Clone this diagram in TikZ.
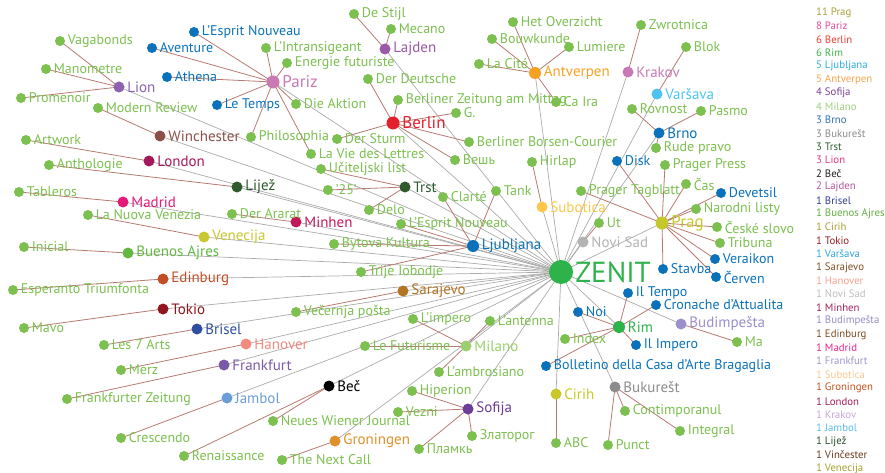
\documentclass[tikz,border=0pt]{standalone}
\usepackage{fontspec}
\setmainfont{PT Sans}
\usetikzlibrary{backgrounds}

\definecolor{maggreen}{HTML}{7CC04F}
\definecolor{magblue}{HTML}{0A72BB}
\definecolor{linkbrown}{HTML}{B77A72}
\definecolor{tiegrey}{HTML}{ABABAB}
\definecolor{zenitgreen}{HTML}{2DB34A}
\definecolor{lionc}{HTML}{8B62B0}
\definecolor{parizc}{HTML}{C979B4}
\definecolor{winc}{HTML}{8B5048}
\definecolor{londonc}{HTML}{A3185A}
\definecolor{lijezc}{HTML}{2E5A2E}
\definecolor{madridc}{HTML}{E5197A}
\definecolor{minhenc}{HTML}{C2185B}
\definecolor{venecijac}{HTML}{C8C832}
\definecolor{buenosc}{HTML}{63B842}
\definecolor{edinburgc}{HTML}{C24E26}
\definecolor{tokioc}{HTML}{8E161C}
\definecolor{briselc}{HTML}{2F4EA0}
\definecolor{hanoverc}{HTML}{F28A80}
\definecolor{frankfurtc}{HTML}{7A5AA8}
\definecolor{jambolc}{HTML}{6B9ED8}
\definecolor{groningenc}{HTML}{E0902A}
\definecolor{sofijac}{HTML}{6B3D99}
\definecolor{milanoc}{HTML}{9CCF6E}
\definecolor{sarajevoc}{HTML}{B57324}
\definecolor{berlinc}{HTML}{E3202D}
\definecolor{lajdenc}{HTML}{9A59A8}
\definecolor{antverpenc}{HTML}{F7A123}
\definecolor{krakovc}{HTML}{C779B5}
\definecolor{varsavac}{HTML}{4DC3F0}
\definecolor{suboticac}{HTML}{FDC84A}
\definecolor{novisadc}{HTML}{B3B3B3}
\definecolor{pragc}{HTML}{C5C72E}
\definecolor{budimpestac}{HTML}{9B8FCC}
\definecolor{bukurestc}{HTML}{8C8C8C}
\definecolor{cirihc}{HTML}{C8C82A}

\newcommand\magfont{\fontsize{14}{16}\selectfont}
\newcommand\cityfont{\fontsize{15}{17}\selectfont}
\newcommand\capfont{\fontsize{17}{19}\selectfont}
\newcommand\zenitfont{\fontsize{29}{31}\selectfont}
\newcommand\legendfont{\fontsize{10.8}{12}\selectfont}

\begin{document}
\begin{tikzpicture}[
  x=1pt, y=-1pt,
  mag/.style={circle, fill=maggreen, inner sep=0pt, minimum size=10pt,
    label={[text=maggreen, font=\magfont, inner sep=2.5pt]right:#1}},
  bluemag/.style={circle, fill=magblue, inner sep=0pt, minimum size=10pt,
    label={[text=magblue, font=\magfont, inner sep=2.5pt]right:#1}},
  city/.style 2 args={circle, fill=#1, inner sep=0pt, minimum size=11pt,
    label={[text=#1, font=\cityfont, inner sep=2.5pt]right:#2}},
  bigcity/.style 2 args={circle, fill=#1, inner sep=0pt, minimum size=13pt,
    label={[text=#1, font=\capfont, inner sep=2.5pt]right:#2}},
  link/.style={draw=linkbrown, line width=0.8pt},
  tie/.style={draw=tiegrey, line width=0.7pt},
  legend/.style={anchor=west, inner sep=0pt, font=\legendfont}
]
\useasboundingbox (0,0) rectangle (885,473);

% centre
\node[circle, fill=zenitgreen, inner sep=0pt, minimum size=24pt,
  label={[text=zenitgreen, font=\zenitfont, inner sep=2pt]right:ZENIT}] (zenit) at (561,272) {};

% cities
\node[city={lionc}{Lion}] (lion) at (119,87) {};
\node[bigcity={parizc}{Pariz}] (pariz) at (273,82) {};
\node[city={winc}{Winchester}] (winchester) at (160,136) {};
\node[city={londonc}{London}] (london) at (149,161) {};
\node[city={lijezc}{Lijež}] (lijez) at (237,187) {};
\node[city={madridc}{Madrid}] (madrid) at (123,202) {};
\node[city={minhenc}{Minhen}] (minhen) at (296,222) {};
\node[city={venecijac}{Venecija}] (venecija) at (204,237) {};
\node[city={buenosc}{Buenos Ajres}] (buenosajres) at (128,253) {};
\node[city={edinburgc}{Edinburg}] (edinburg) at (163,279) {};
\node[city={tokioc}{Tokio}] (tokio) at (163,309) {};
\node[city={briselc}{Brisel}] (brisel) at (197,329) {};
\node[city={hanoverc}{Hanover}] (hanover) at (246,344) {};
\node[city={frankfurtc}{Frankfurt}] (frankfurt) at (224,365) {};
\node[city={jambolc}{Jambol}] (jambol) at (227,398) {};
\node[city={black}{Beč}] (bec) at (329,386) {};
\node[city={groningenc}{Groningen}] (groningen) at (335,441) {};
\node[city={sofijac}{Sofija}] (sofija) at (468,409) {};
\node[city={milanoc}{Milano}] (milano) at (466,346) {};
\node[city={sarajevoc}{Sarajevo}] (sarajevo) at (403,291) {};
\node[city={lijezc}{Trst}] (trst) at (405,187) {};
\node[city={magblue}{Ljubljana}, minimum size=12pt] (ljubljana) at (473,246) {};
\node[bigcity={berlinc}{Berlin}] (berlin) at (393,123) {};
\node[city={lajdenc}{Lajden}] (lajden) at (385,49) {};
\node[city={antverpenc}{Antverpen}, minimum size=12pt] (antverpen) at (535,73) {};
\node[city={krakovc}{Krakov}] (krakov) at (628,72) {};
\node[city={varsavac}{Varšava}] (varsava) at (657,94) {};
\node[city={magblue}{Brno}] (brno) at (659,133) {};
\node[city={suboticac}{Subotica}] (subotica) at (542,207) {};
\node[city={novisadc}{Novi Sad}] (novisad) at (583,242) {};
\node[bigcity={pragc}{Prag}] (prag) at (662,223) {};
\node[city={zenitgreen}{Rim}, minimum size=12pt] (rim) at (619,327) {};
\node[city={budimpestac}{Budimpešta}] (budimpesta) at (681,324) {};
\node[city={bukurestc}{Bukurešt}] (bukurest) at (615,387) {};
\node[city={cirihc}{Cirih}] (cirih) at (556,394) {};

% magazines
\node[mag=Vagabonds] (vagabonds) at (60,41) {};
\node[mag=Manometre] (manometre) at (46,69) {};
\node[mag=Promenoir] (promenoir) at (21,98) {};
\node[mag=Modern Review] (modernreview) at (98,108) {};
\node[mag=Artwork] (artwork) at (26,140) {};
\node[mag=Anthologie] (anthologie) at (49,165) {};
\node[mag=Tableros] (tableros) at (19,192) {};
\node[mag=La Nuova Venezia] (nuovavenezia) at (88,215) {};
\node[mag=Der Ararat] (ararat) at (232,214) {};
\node[mag=Inicial] (inicial) at (24,247) {};
\node[mag=Esperanto Triumfonta] (esperanto) at (13,290) {};
\node[mag=Mavo] (mavo) at (24,328) {};
\node[mag=Les 7 Arts] (septarts) at (104,345) {};
\node[mag=Merz] (merz) at (121,370) {};
\node[mag=Frankfurter Zeitung] (fzeitung) at (67,399) {};
\node[mag=Crescendo] (crescendo) at (121,438) {};
\node[mag=Renaissance] (renaissance) at (184,456) {};
\node[mag=Neues Wiener Journal] (wienerjournal) at (273,421) {};
\node[mag=The Next Call] (nextcall) at (282,460) {};
\node[bluemag=L’Esprit Nouveau] (espritA) at (194,32) {};
\node[bluemag=Aventure] (aventure) at (152,48) {};
\node[bluemag=Athena] (athena) at (167,77) {};
\node[bluemag=Le Temps] (letemps) at (217,105) {};
\node[mag=L'Intransigeant] (intransigeant) at (266,48) {};
\node[mag=Energie futuriste] (energie) at (287,63) {};
\node[mag=Die Aktion] (aktion) at (296,104) {};
\node[mag=Philosophia] (philosophia) at (251,137) {};
\node[mag=La Vie des Lettres] (lavie) at (311,154) {};
\node[mag=De Stijl] (destijl) at (354,14) {};
\node[mag=Mecano] (mecano) at (391,29) {};
\node[mag=Der Deutsche] (deutsche) at (368,79) {};
\node[mag=Berliner Zeitung am Mittag] (bzmittag) at (398,100) {};
\node[mag=G.] (g) at (456,113) {};
\node[mag=Der Sturm] (sturm) at (337,139) {};
\node[mag=Berliner Borsen-Courier] (borsen) at (469,142) {};
\node[mag=Вешь] (vesch) at (455,160) {};
\node[mag=Het Overzicht] (overzicht) at (513,22) {};
\node[mag=Bouwkunde] (bouwkunde) at (492,39) {};
\node[mag=Lumiere] (lumiere) at (569,47) {};
\node[mag=La Cité] (lacite) at (479,64) {};
\node[mag=Ca Ira] (cair) at (556,102) {};
\node[mag=Zwrotnica] (zwrotnica) at (641,25) {};
\node[mag=Blok] (blok) at (686,47) {};
\node[mag=Rovnost] (rovnost) at (632,109) {};
\node[mag=Pasmo] (pasmo) at (701,111) {};
\node[mag=Rude pravo] (rudepravo) at (656,148) {};
\node[bluemag=Disk] (disk) at (617,161) {};
\node[mag=Prager Press] (pragerpress) at (665,165) {};
\node[mag=Čas] (cas) at (686,184) {};
\node[mag=Prager Tagblatt] (tagblatt) at (581,191) {};
\node[bluemag=Devetsil] (devetsil) at (721,193) {};
\node[mag=Narodni listy] (narodni) at (696,209) {};
\node[mag=Ut] (ut) at (599,223) {};
\node[mag=České slovo] (ceske) at (717,227) {};
\node[mag=Tribuna] (tribuna) at (720,243) {};
\node[bluemag=Veraikon] (veraikon) at (715,259) {};
\node[bluemag=Stavba] (stavba) at (663,269) {};
\node[bluemag=Červen] (cerven) at (716,277) {};
\node[bluemag=Il Tempo] (iltempo) at (628,293) {};
\node[bluemag=Cronache d'Attualita] (cronache) at (656,305) {};
\node[bluemag=Noi] (noi) at (578,312) {};
\node[mag=Index] (index) at (565,339) {};
\node[mag=Ma] (ma) at (737,342) {};
\node[bluemag=Il Impero] (ilimpero) at (636,345) {};
\node[bluemag=Bolletino della Casa d'Arte Bragaglia] (bolletino) at (546,366) {};
\node[mag=Contimporanul] (contimporanul) at (625,411) {};
\node[mag=Integral] (integral) at (680,431) {};
\node[mag=ABC] (abc) at (556,443) {};
\node[mag=Punct] (punct) at (608,445) {};
\node[mag=Učiteljski list] (uciteljski) at (321,169) {};
\node[mag=Hirlap] (hirlap) at (532,162) {};
\node[mag='25'] (dvadeset) at (328,190) {};
\node[mag=Clarté] (clarte) at (443,197) {};
\node[mag=Tank] (tank) at (496,191) {};
\node[mag=Delo] (delo) at (369,210) {};
\node[mag=L’Esprit Nouveau] (espritB) at (401,224) {};
\node[mag=Bytova Kultura] (bytova) at (334,244) {};
\node[mag=Trije Iobodje] (trije) at (361,272) {};
\node[mag=Večernja pošta] (vecernja) at (296,312) {};
\node[mag=L’impero] (impero) at (413,319) {};
\node[mag=L'antenna] (antenna) at (490,321) {};
\node[mag=Le Futurisme] (futurisme) at (365,346) {};
\node[mag=L'ambrosiano] (ambrosiano) at (439,372) {};
\node[mag=Hiperion] (hiperion) at (412,391) {};
\node[mag=Vezni] (vezni) at (398,412) {};
\node[mag=Златорог] (zlatorog) at (472,436) {};
\node[mag=Пламкь] (plamk) at (419,449) {};

\begin{scope}[on background layer]
\foreach \c in {lion, pariz, winchester, london, lijez, madrid, minhen, venecija,
    buenosajres, edinburg, tokio, brisel, hanover, frankfurt, jambol, bec,
    groningen, sofija, milano, sarajevo, trst, ljubljana, berlin, lajden,
    antverpen, krakov, varsava, brno, subotica, novisad, prag, rim,
    budimpesta, bukurest, cirih}
  \draw[tie] (zenit.center) -- (\c.center);
\foreach \a/\b in {lion/vagabonds, lion/manometre, lion/promenoir,
    winchester/modernreview, london/artwork, lijez/anthologie, madrid/tableros,
    venecija/nuovavenezia, minhen/ararat, buenosajres/inicial,
    edinburg/esperanto, tokio/mavo, brisel/septarts, hanover/merz,
    frankfurt/fzeitung, jambol/crescendo, bec/renaissance, bec/wienerjournal,
    groningen/nextcall, pariz/espritA, pariz/aventure, pariz/athena,
    pariz/letemps, pariz/intransigeant, pariz/energie, pariz/aktion,
    pariz/philosophia, pariz/lavie, lajden/destijl, lajden/mecano,
    berlin/deutsche, berlin/bzmittag, berlin/g, berlin/sturm, berlin/borsen,
    berlin/vesch, antverpen/overzicht, antverpen/bouwkunde, antverpen/lumiere,
    antverpen/lacite, antverpen/cair, krakov/zwrotnica, varsava/blok,
    brno/rovnost, brno/pasmo, brno/rudepravo, prag/disk, prag/pragerpress,
    prag/cas, prag/tagblatt, prag/devetsil, prag/narodni, prag/ceske,
    prag/tribuna, prag/veraikon, prag/cerven, prag/stavba, novisad/ut,
    subotica/hirlap, trst/uciteljski, trst/dvadeset, trst/delo,
    ljubljana/clarte, ljubljana/tank, ljubljana/espritB, ljubljana/bytova,
    ljubljana/trije, sarajevo/vecernja, milano/impero, milano/antenna,
    milano/futurisme, milano/ambrosiano, sofija/hiperion, sofija/vezni,
    sofija/zlatorog, sofija/plamk, rim/noi, rim/cronache, rim/iltempo,
    rim/index, rim/ilimpero, rim/bolletino, budimpesta/ma,
    bukurest/contimporanul, bukurest/integral, bukurest/punct, cirih/abc}
  \draw[link] (\a.center) -- (\b.center);
\end{scope}

% counts per city
\foreach \txt/\hex [count=\i from 0] in {11 Prag/A9A23A, 8 Pariz/E8489A,
    6 Berlin/EE3B2E, 6 Rim/3DB54A, 5 Ljubljana/29A9E1, 5 Antverpen/F9A34B,
    4 Sofija/7D3F98, 4 Milano/9ED07C, 3 Brno/2F6DB5, 3 Bukurešt/8A8A8A,
    3 Trst/2B5E2F, 3 Lion/E6367E, 2 Beč/231F20, 2 Lajden/B3559D,
    1 Brisel/2E3D8F, 1 Buenos Ajres/5FB043, 1 Cirih/A8A034, 1 Tokio/9B1B1F,
    1 Varšava/2EA5DD, 1 Sarajevo/7A4E22, 1 Hanover/F6A08E, 1 Novi Sad/BDBDBD,
    1 Minhen/A0225E, 1 Budimpešta/9A8AC8, 1 Edinburg/7D4A20, 1 Madrid/EC2384,
    1 Frankfurt/A294CC, 1 Subotica/FBC78F, 1 Groningen/C0501E,
    1 London/A21E5B, 1 Krakov/C7A6D1, 1 Jambol/5BBDEA, 1 Lijež/2B4E2A,
    1 Vinčester/6A3B1C, 1 Venecija/A7A22E} {
  \definecolor{legc}{HTML}{\hex}
  \node[legend, text=legc] (leg\i) at (816,{12.7+13.4*\i}) {\txt};
}
\end{tikzpicture}
\end{document}
